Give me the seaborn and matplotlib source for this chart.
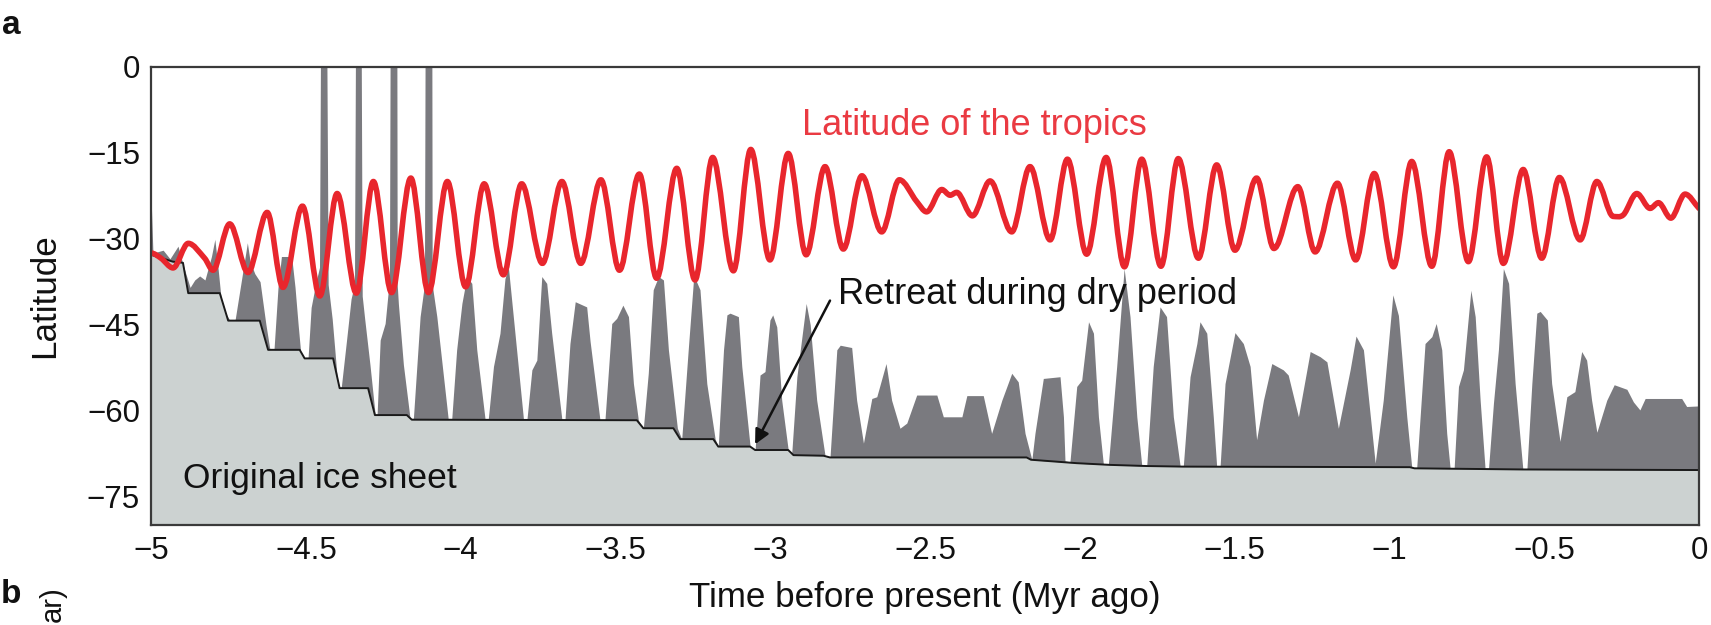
import numpy as np
import pandas as pd
import matplotlib
matplotlib.use("Agg")
import matplotlib.pyplot as plt
import seaborn as sns
from matplotlib.path import Path
from matplotlib.patches import PathPatch

# ---------------- data ----------------
# Latitude of the tropics: extrema / key points (time in Myr, latitude in deg)
tropics_time = [-5.000, -4.968, -4.929, -4.880, -4.827, -4.800, -4.746, -4.687, -4.625, -4.574,
                -4.511, -4.455, -4.399, -4.337, -4.282, -4.223, -4.161, -4.104, -4.043, -3.984,
                -3.924, -3.862, -3.803, -3.736, -3.673, -3.612, -3.547, -3.487, -3.423, -3.367,
                -3.302, -3.243, -3.186, -3.119, -3.063, -3.001, -2.942, -2.884, -2.823, -2.764,
                -2.704, -2.640, -2.583, -2.527, -2.495, -2.446, -2.419, -2.398, -2.347, -2.290,
                -2.220, -2.161, -2.096, -2.040, -1.978, -1.915, -1.856, -1.800, -1.738, -1.682,
                -1.617, -1.558, -1.499, -1.429, -1.373, -1.296, -1.240, -1.168, -1.109, -1.049,
                -0.987, -0.928, -0.863, -0.807, -0.745, -0.686, -0.632, -0.568, -0.508, -0.451,
                -0.384, -0.330, -0.277, -0.244, -0.201, -0.158, -0.131, -0.091, -0.045, 0.000]
tropics_lat = [-32.5, -33.4, -35.1, -30.8, -33.4, -35.5, -27.4, -35.9, -25.4, -38.5,
               -24.3, -40.0, -22.1, -39.5, -20.0, -39.4, -19.4, -39.4, -20.0, -38.4,
               -20.4, -36.3, -20.4, -34.3, -20.0, -34.3, -19.7, -35.5, -18.7, -36.9,
               -17.7, -37.2, -15.8, -35.6, -14.4, -33.7, -15.1, -32.8, -17.4, -31.8,
               -19.0, -28.8, -19.7, -23.5, -25.3, -21.4, -22.4, -21.9, -26.0, -19.9,
               -28.8, -17.4, -30.2, -16.1, -32.7, -15.8, -34.9, -16.1, -34.8, -16.0,
               -33.4, -17.1, -32.0, -19.4, -31.7, -20.9, -32.3, -20.3, -33.7, -18.6,
               -34.9, -16.5, -34.8, -14.8, -34.0, -15.7, -34.3, -17.9, -33.4, -19.3,
               -30.2, -20.0, -26.1, -25.8, -22.1, -24.7, -23.7, -26.4, -22.2, -24.7]

# Edge of the original ice sheet (staircase)
sheet_time = [-5.000, -4.930, -4.897, -4.880, -4.778, -4.751, -4.649, -4.622, -4.520, -4.504,
              -4.412, -4.391, -4.299, -4.277, -4.174, -4.158, -3.431, -3.410, -3.313, -3.291,
              -3.184, -3.168, -3.065, -3.049, -2.942, -2.925, -2.828, -2.807, -2.172, -2.158,
              -2.010, -1.902, -1.784, -1.667, -0.934, -0.919, -0.569, 0.000]
sheet_lat = [-32.8, -34.0, -34.2, -39.5, -39.5, -44.3, -44.3, -49.4, -49.4, -50.9,
             -50.9, -56.1, -56.1, -60.8, -60.8, -61.6, -61.7, -63.1, -63.1, -65.0,
             -65.0, -66.3, -66.3, -66.9, -66.9, -67.8, -67.9, -68.2, -68.2, -68.6,
             -69.2, -69.5, -69.7, -69.8, -69.9, -70.1, -70.3, -70.4]

# Extent of the ice sheet through time (upper edge of the dark grey area)
ice_time = [-5.000, -4.994, -4.961, -4.939, -4.913, -4.897, -4.874, -4.859, -4.843, -4.826,
            -4.805, -4.794, -4.784, -4.771, -4.745, -4.729, -4.708, -4.689, -4.680, -4.665,
            -4.648, -4.629, -4.616, -4.603, -4.590, -4.579, -4.546, -4.535, -4.525, -4.515,
            -4.493, -4.483, -4.467, -4.456, -4.453, -4.432, -4.428, -4.415, -4.396, -4.386,
            -4.369, -4.354, -4.343, -4.340, -4.321, -4.318, -4.310, -4.293, -4.276, -4.270,
            -4.260, -4.244, -4.230, -4.228, -4.206, -4.205, -4.201, -4.185, -4.163, -4.153,
            -4.131, -4.117, -4.115, -4.093, -4.092, -4.077, -4.040, -4.029, -4.013, -3.996,
            -3.980, -3.964, -3.948, -3.921, -3.911, -3.894, -3.873, -3.857, -3.846, -3.830,
            -3.797, -3.786, -3.770, -3.754, -3.738, -3.722, -3.706, -3.673, -3.663, -3.647,
            -3.630, -3.593, -3.582, -3.550, -3.534, -3.512, -3.496, -3.476, -3.458, -3.442,
            -3.426, -3.410, -3.394, -3.378, -3.361, -3.345, -3.329, -3.300, -3.286, -3.265,
            -3.248, -3.243, -3.227, -3.205, -3.178, -3.168, -3.151, -3.140, -3.130, -3.103,
            -3.092, -3.065, -3.049, -3.033, -3.017, -3.001, -2.992, -2.979, -2.963, -2.942,
            -2.931, -2.914, -2.884, -2.871, -2.850, -2.823, -2.807, -2.785, -2.774, -2.737,
            -2.721, -2.699, -2.672, -2.656, -2.626, -2.608, -2.581, -2.559, -2.527, -2.462,
            -2.441, -2.381, -2.365, -2.312, -2.285, -2.252, -2.220, -2.199, -2.177, -2.155,
            -2.145, -2.118, -2.064, -2.053, -2.048, -2.032, -2.010, -1.994, -1.972, -1.956,
            -1.940, -1.924, -1.908, -1.881, -1.857, -1.838, -1.816, -1.800, -1.784, -1.763,
            -1.741, -1.720, -1.698, -1.676, -1.666, -1.644, -1.622, -1.612, -1.590, -1.569,
            -1.558, -1.547, -1.531, -1.499, -1.472, -1.450, -1.429, -1.407, -1.380, -1.343,
            -1.327, -1.294, -1.256, -1.224, -1.202, -1.165, -1.127, -1.108, -1.084, -1.046,
            -1.020, -0.989, -0.971, -0.944, -0.928, -0.912, -0.885, -0.863, -0.849, -0.831,
            -0.815, -0.804, -0.791, -0.777, -0.761, -0.737, -0.723, -0.707, -0.691, -0.680,
            -0.664, -0.648, -0.632, -0.615, -0.594, -0.569, -0.556, -0.540, -0.524, -0.513,
            -0.490, -0.476, -0.449, -0.427, -0.401, -0.379, -0.363, -0.347, -0.330, -0.298,
            -0.274, -0.233, -0.212, -0.191, -0.174, -0.056, -0.040, 0.000]
ice_lat = [-22.7, -32.5, -32.0, -33.5, -31.3, -34.5, -38.5, -37.2, -36.5, -37.2,
           -33.1, -30.1, -35.0, -42.0, -44.3, -44.3, -37.2, -30.7, -34.0, -36.1,
           -37.5, -45.0, -49.4, -49.4, -38.5, -33.1, -33.1, -38.5, -45.0, -50.9,
           -50.9, -42.0, -37.5, -35.0, 0.0, 0.0, -38.0, -44.0, -56.1, -56.1,
           -47.9, -40.5, -38.0, 0.0, 0.0, -40.0, -44.0, -52.0, -60.8, -60.8,
           -47.7, -44.8, -37.0, 0.0, 0.0, -38.0, -41.5, -52.0, -61.6, -61.6,
           -43.6, -38.0, 0.0, 0.0, -38.0, -43.6, -61.6, -61.6, -49.4, -41.3,
           -36.6, -37.8, -49.4, -61.6, -61.6, -52.3, -46.5, -37.0, -34.9, -43.6,
           -61.6, -61.6, -52.9, -51.2, -36.6, -37.8, -46.5, -61.6, -61.6, -48.3,
           -41.0, -41.9, -47.9, -61.7, -61.7, -44.8, -43.9, -41.6, -43.6, -55.3,
           -61.7, -63.1, -53.5, -38.9, -36.6, -37.2, -49.4, -63.1, -65.0, -49.4,
           -37.2, -36.9, -38.9, -55.3, -65.0, -66.3, -49.4, -43.3, -43.0, -43.6,
           -52.3, -66.3, -66.9, -53.8, -53.2, -44.2, -43.3, -45.4, -58.2, -66.9,
           -67.8, -54.1, -41.3, -45.0, -58.2, -67.9, -68.2, -49.4, -48.6, -49.0,
           -58.2, -65.7, -57.9, -57.6, -51.8, -58.2, -63.1, -62.2, -57.3, -57.3,
           -61.1, -61.1, -57.4, -57.4, -64.0, -58.2, -53.5, -55.0, -64.0, -68.6,
           -64.0, -54.4, -54.1, -61.1, -68.8, -69.0, -55.8, -54.7, -44.5, -46.5,
           -61.1, -69.4, -69.5, -52.3, -35.2, -43.6, -61.1, -69.6, -69.7, -52.3,
           -41.9, -43.6, -61.1, -69.7, -69.8, -54.1, -48.3, -44.5, -46.5, -61.1,
           -69.8, -69.8, -55.3, -46.4, -48.3, -52.3, -65.1, -58.2, -51.8, -52.9,
           -53.8, -61.1, -49.7, -50.6, -51.5, -63.1, -52.9, -47.0, -49.4, -69.2,
           -58.2, -39.8, -43.4, -61.1, -69.9, -70.1, -48.3, -47.1, -44.8, -49.4,
           -64.0, -70.1, -70.1, -55.8, -52.9, -39.0, -43.6, -58.2, -70.2, -70.2,
           -58.7, -49.4, -35.2, -37.8, -55.3, -70.3, -70.3, -55.3, -43.0, -42.7,
           -44.2, -55.3, -65.4, -57.6, -56.7, -49.7, -51.2, -58.2, -63.8, -58.2,
           -55.5, -56.3, -58.5, -59.9, -57.9, -57.9, -59.3, -59.2]

xtick_values = [-5, -4.5, -4, -3.5, -3, -2.5, -2, -1.5, -1, -0.5, 0]
xtick_labels = ["\u22125", "\u22124.5", "\u22124", "\u22123.5", "\u22123", "\u22122.5",
                "\u22122", "\u22121.5", "\u22121", "\u22120.5", "0"]
ytick_values = [0, -15, -30, -45, -60, -75]
ytick_labels = ["0", "\u221215", "\u221230", "\u221245", "\u221260", "\u221275"]

# ---------------- style ----------------
sns.set_theme(style="white")
plt.rcParams["font.family"] = ["Liberation Sans", "DejaVu Sans"]

RED = "#e8262d"
DARK = "#7a7a7f"
LIGHT = "#ccd2d1"
INK = "#111111"

fig = plt.figure(figsize=(17.11, 6.25), dpi=100)
ax = fig.add_axes([0.0883, 0.16, 0.9047, 0.7328])

ice_df = pd.DataFrame({"time": ice_time, "lat": ice_lat})
sheet_df = pd.DataFrame({"time": sheet_time, "lat": sheet_lat})

# dark grey: maximal ice extent through time
ax.fill_between(ice_df["time"], ice_df["lat"], -80, color=DARK, lw=0, zorder=1)
# light grey: original ice sheet
ax.fill_between(sheet_df["time"], sheet_df["lat"], -80, color=LIGHT, lw=0, zorder=2)
sns.lineplot(data=sheet_df, x="time", y="lat", color="#1a1a1a", lw=1.4,
             ax=ax, zorder=3, sort=False, estimator=None)

# red tropics line, rendered smoothly through the read points
def smooth_path(xs, ys):
    xs = np.asarray(xs, float)
    ys = np.asarray(ys, float)
    n = len(xs)
    m = np.zeros(n)
    for i in range(1, n - 1):
        if (ys[i] - ys[i - 1]) * (ys[i + 1] - ys[i]) > 0:
            m[i] = (ys[i + 1] - ys[i - 1]) / (xs[i + 1] - xs[i - 1])
    m[-1] = (ys[-1] - ys[-2]) / (xs[-1] - xs[-2])
    verts = [(xs[0], ys[0])]
    codes = [Path.MOVETO]
    for i in range(n - 1):
        dx = xs[i + 1] - xs[i]
        verts += [(xs[i] + dx / 3, ys[i] + m[i] * dx / 3),
                  (xs[i + 1] - dx / 3, ys[i + 1] - m[i + 1] * dx / 3),
                  (xs[i + 1], ys[i + 1])]
        codes += [Path.CURVE4] * 3
    return Path(verts, codes)

ax.add_patch(PathPatch(smooth_path(tropics_time, tropics_lat), fill=False,
                       edgecolor=RED, lw=4.0, capstyle="round", joinstyle="round",
                       zorder=4))

# axes
ax.set_xlim(-5, 0)
ax.set_ylim(-80, 0)
ax.set_xticks(xtick_values)
ax.set_xticklabels(xtick_labels)
ax.set_yticks(ytick_values)
ax.set_yticklabels(ytick_labels)
ax.tick_params(axis="both", length=0, labelsize=22.5, colors=INK)
ax.tick_params(axis="x", pad=8)
ax.tick_params(axis="y", pad=8)
for s in ax.spines.values():
    s.set_color("#3a3a3a")
    s.set_linewidth(1.6)
    s.set_zorder(6)

ax.set_xlabel("Time before present (Myr ago)", fontsize=25.2, color=INK, va="center")
ax.set_ylabel("Latitude", fontsize=25.2, color=INK, va="center")
ax.xaxis.set_label_coords(0.5, -0.159)
ax.yaxis.set_label_coords(-0.069, 0.5)

# annotations
ax.text(-2.897, -10.2, "Latitude of the tropics", color="#ea3a42", fontsize=26,
        va="center", ha="left", zorder=7)
ax.text(-2.781, -39.8, "Retreat during dry period", color=INK, fontsize=26,
        va="center", ha="left", zorder=7)
ax.annotate("", xy=(-3.049, -65.9), xytext=(-2.807, -40.8),
            arrowprops=dict(arrowstyle="-|>", color=INK, lw=1.8,
                            mutation_scale=22, shrinkA=0, shrinkB=0), zorder=7)
ax.text(-4.896, -71.8, "Original ice sheet", color=INK, fontsize=25.5,
        va="center", ha="left", zorder=7)

# fragments of neighbouring panels at the figure edge
fig.text(21 / 1711, 1 - 34 / 625, "a", fontsize=24, weight="bold", ha="right",
         va="baseline", color=INK)
fig.text(21 / 1711, 1 - 603 / 625, "b", fontsize=24, weight="bold", ha="right",
         va="baseline", color=INK)
fig.text(61 / 1711, 1 - 586 / 625, "ar)", fontsize=21, rotation=90,
         rotation_mode="anchor", ha="right", va="baseline", color=INK)

fig.savefig("out.png", dpi=100)
